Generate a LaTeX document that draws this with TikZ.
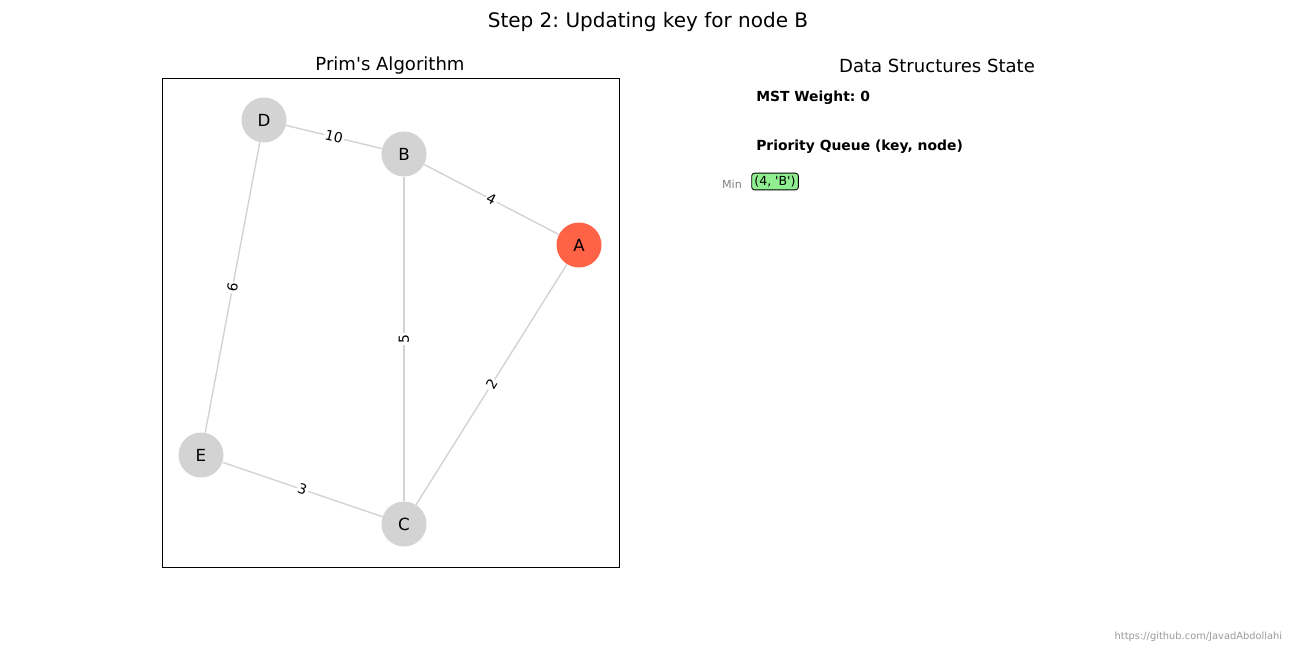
\documentclass[tikz,border=0pt]{standalone}
\usepackage{fontspec}
\setmainfont{DejaVu Sans}
\usetikzlibrary{positioning}
\definecolor{nodegray}{HTML}{D3D3D3}
\definecolor{edgegray}{HTML}{D3D3D3}
\definecolor{tomato}{HTML}{FF6347}
\definecolor{pqgreen}{HTML}{90EE90}
\frenchspacing

\begin{document}
\begin{tikzpicture}[x=0.72pt,y=-0.72pt,
	vertex/.style={circle,fill=nodegray,minimum size=32.4pt,inner sep=0pt,font=\fontsize{12}{14}\selectfont},
	weight/.style={fill=white,inner sep=1pt,sloped,font=\fontsize{10}{12}\selectfont},
	heading/.style={font=\fontsize{13}{16}\selectfont},
	info/.style={anchor=west,inner sep=0pt,font=\fontsize{10}{12}\selectfont\bfseries}]
	\useasboundingbox[fill=white] (0,0) rectangle (1296,648);

	\node[heading,font=\fontsize{14.4}{17}\selectfont] (title) at (648,22) {Step 2: Updating key for node B};
	\node[heading] (graphtitle) at (390,66) {Prim\textquotesingle s Algorithm};
	\node[heading] (datatitle) at (937,66) {Data Structures State};
	\draw[line width=0.6pt] (162,78) rectangle (619,567);

	\node[vertex,fill=tomato] (A) at (579,245) {A};
	\node[vertex] (B) at (404,154) {B};
	\node[vertex] (C) at (404,524) {C};
	\node[vertex] (D) at (264,120) {D};
	\node[vertex] (E) at (201,455) {E};

	\path[draw=edgegray,line width=1pt]
	(D) edge node[weight] {10} (B)
	(B) edge node[weight] {4} (A)
	(E) edge node[weight] {6} (D)
	(C) edge node[weight] {5} (B)
	(C) edge node[weight] {2} (A)
	(E) edge node[weight] {3} (C);

	\node[info] (weightline) at (756,98) {MST Weight: 0};
	\node[info] (pqline) at (756,147) {Priority Queue (key, node)};
	\node[font=\fontsize{8}{10}\selectfont,text=gray] (minlabel) at (732,184) {Min};
	\node[draw,fill=pqgreen,rounded corners=2pt,line width=0.6pt,inner sep=2pt,font=\fontsize{9}{11}\selectfont] (pqitem) at (775,181.5) {(4, \textquotesingle B\textquotesingle)};

	\node[anchor=east,font=\fontsize{7.1}{9}\selectfont,text=black!40] (credit) at (1287,637) {https://github.com/JavadAbdollahi};
\end{tikzpicture}
\end{document}
